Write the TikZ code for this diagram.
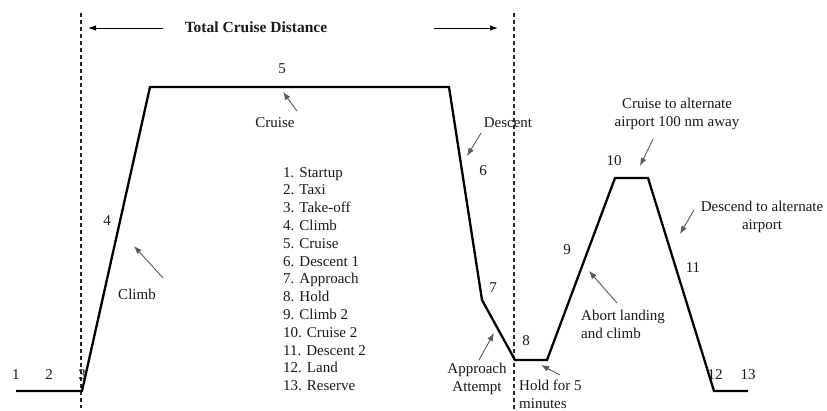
\documentclass[tikz,border=0pt]{standalone}
\usepackage{fontspec}
\setmainfont{Liberation Serif}
\usetikzlibrary{arrows.meta}
\begin{document}
\begin{tikzpicture}[x=1pt,y=-1pt,
  lbl/.style={font=\fontsize{15}{18}\selectfont, inner sep=0pt, text=black!90},
  profile/.style={line width=2.3pt, line join=miter, black},
  vline/.style={line width=1.4pt, dash pattern=on 4pt off 3pt, black!85},
  toparrow/.style={line width=1pt, -{Latex[length=8pt,width=5.5pt]}, black},
  callout/.style={line width=0.9pt, draw=black!65, -{Latex[length=8pt,width=6pt]}}]
\useasboundingbox (0,0) rectangle (827,410);
\fill[white] (0,0) rectangle (827,410);
% dashed boundaries
\draw[vline] (81,13) -- (81,408);
\draw[vline] (514,13) -- (514,410);
% profile
\coordinate (p0) at (16,391);
\coordinate (p1) at (82,391);
\coordinate (p2) at (150,87);
\coordinate (p3) at (449,87);
\coordinate (p4) at (482,300);
\coordinate (p5) at (515,360);
\coordinate (p6) at (547,360);
\coordinate (p7) at (615,178);
\coordinate (p8) at (648,178);
\coordinate (p9) at (714,391);
\coordinate (p10) at (748,391);
\draw[profile] (p0) -- (p1) -- (p2) -- (p3) -- (p4) -- (p5) -- (p6) -- (p7) -- (p8) -- (p9) -- (p10);
% title
\node[lbl, font=\fontsize{15.5}{18}\selectfont\bfseries] (title) at (256,27) {Total Cruise Distance};
\coordinate (la) at (88,28);
\coordinate (ra) at (498,28);
\coordinate (ls) at (163,28);
\coordinate (rs) at (434,28);
\draw[toparrow] (ls) -- (la);
\draw[toparrow] (rs) -- (ra);
% numbers
\node[lbl] (n1) at (16,375) {1};
\node[lbl] (n2) at (49,375) {2};
\node[lbl] (n3) at (82,375) {3};
\node[lbl] (n4) at (107,221) {4};
\node[lbl] (n5) at (282,69) {5};
\node[lbl] (n6) at (483,171) {6};
\node[lbl] (n7) at (493,288) {7};
\node[lbl] (n8) at (526,341) {8};
\node[lbl] (n9) at (567,250) {9};
\node[lbl] (n10) at (614,161) {10};
\node[lbl] (n11) at (693,268) {11};
\node[lbl] (n12) at (715,375) {12};
\node[lbl] (n13) at (748,375) {13};
% legend
\node[lbl, anchor=north west, align=left, font=\fontsize{15}{17.8}\selectfont] (legend) at (283,167)
{1. Startup\\2. Taxi\\3. Take-off\\4. Climb\\5. Cruise\\6. Descent 1\\7. Approach\\8. Hold\\9. Climb 2\\10. Cruise 2\\11. Descent 2\\12. Land\\13. Reserve};
% callouts
\node[lbl] (cruise) at (275,123) {Cruise};
\coordinate (cruiseT) at (283,92);
\coordinate (cruiseS) at (297,111);
\draw[callout] (cruiseS) -- (cruiseT);

\node[lbl] (climb) at (137,294) {Climb};
\coordinate (climbS) at (163,278);
\coordinate (climbT) at (134,246);
\draw[callout] (climbS) -- (climbT);

\node[lbl] (descent) at (508,123) {Descent};
\coordinate (descS) at (481,133);
\coordinate (descT) at (467,156);
\draw[callout] (descS) -- (descT);

\node[lbl, align=center] (appr) at (477,379) {Approach\\Attempt};
\coordinate (apprS) at (479,360);
\coordinate (apprT) at (494,333);
\draw[callout] (apprS) -- (apprT);

\node[lbl, anchor=west, align=left] (hold) at (519,394) {Hold for 5\\minutes};
\coordinate (holdS) at (560,375);
\coordinate (holdT) at (541,365);
\draw[callout] (holdS) -- (holdT);

\node[lbl, anchor=west, align=left] (abort) at (581,324) {Abort landing\\and climb};
\coordinate (abortS) at (617,303);
\coordinate (abortT) at (589,271);
\draw[callout] (abortS) -- (abortT);

\node[lbl, align=center] (calt) at (677,114) {Cruise to alternate\\airport 100 nm away};
\coordinate (caltS) at (653,139);
\coordinate (caltT) at (640,166);
\draw[callout] (caltS) -- (caltT);

\node[lbl, align=center] (dalt) at (762,217) {Descend to alternate\\airport};
\coordinate (daltS) at (694,210);
\coordinate (daltT) at (680,234);
\draw[callout] (daltS) -- (daltT);
\end{tikzpicture}
\end{document}
